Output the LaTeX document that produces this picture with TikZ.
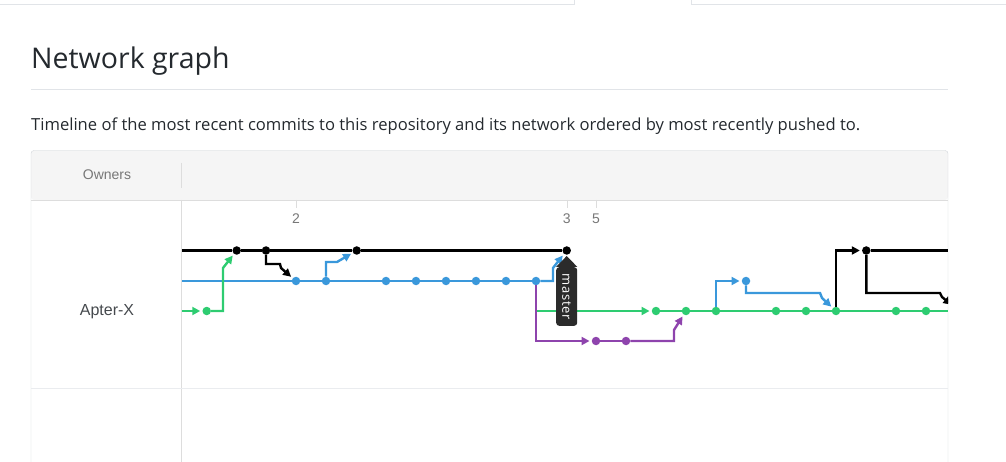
\documentclass[tikz,border=0pt]{standalone}
\usepackage{fontspec}
\setmainfont{Open Sans}
\newfontfamily\canvasfont{Liberation Sans}
\usetikzlibrary{arrows.meta}
\definecolor{ghtext}{HTML}{24292E}
\definecolor{ghrule}{HTML}{E1E4E8}
\definecolor{ghborder}{HTML}{D1D5DA}
\definecolor{ghhead}{HTML}{F5F5F5}
\definecolor{ghgrid}{HTML}{DDDDDD}
\definecolor{ghlabel}{HTML}{777777}
\definecolor{nblack}{HTML}{000000}
\definecolor{nblue}{HTML}{3A98DB}
\definecolor{ngreen}{HTML}{2ECC71}
\definecolor{npurple}{HTML}{8E44AD}
\definecolor{tagdark}{HTML}{2B2B2B}
\begin{document}
\begin{tikzpicture}[x=1pt,y=-1pt,
    commit/.style={circle,fill,inner sep=0pt,minimum size=8.5pt},
    kcommit/.style={commit,fill=nblack},
    bcommit/.style={commit,fill=nblue},
    gcommit/.style={commit,fill=ngreen},
    pcommit/.style={commit,fill=npurple},
    branch/.style={line width=2.4pt},
    merge/.style={line width=2.4pt,-{Triangle[length=8pt,width=8pt]},shorten >=2pt},
    ticklabel/.style={font=\canvasfont\fontsize{14}{14}\selectfont,text=ghlabel,inner sep=0pt},
    tag/.style={fill=tagdark,text=white,rounded corners=3pt,rotate=-90,
      font=\fontsize{13}{13}\selectfont\addfontfeatures{LetterSpace=6},
      minimum height=21pt,inner xsep=6pt}]
  \useasboundingbox (0,0) rectangle (1006,462);

  % page
  \draw[ghrule] (0,4) -- (574,4) -- (574,0);
  \draw[ghrule] (691,0) -- (691,4) -- (1006,4);
  \node[anchor=base west,inner sep=0pt,text=ghtext,font=\fontsize{28.5}{30}\selectfont]
    (title) at (31,69) {Network graph};
  \draw[ghrule,line width=1pt] (31,90) -- (948,90);
  \node[anchor=base west,inner sep=0pt,text=ghtext,font=\fontsize{16.6}{18}\selectfont]
    (lead) at (31,131) {Timeline of the most recent commits to this repository and its network ordered by most recently pushed to.};

  % box
  \fill[ghhead,rounded corners=3pt] (31,150.5) rectangle (948,200);
  \draw[ghborder,rounded corners=3pt] (31,480) -- (31,150.5) -- (948,150.5) -- (948,480);
  \draw[ghgrid] (31,200) -- (948,200);
  \draw[ghgrid] (181.5,163) -- (181.5,188);
  \draw[ghgrid] (181.5,200) -- (181.5,462);
  \draw[ghrule!70,line width=1pt] (31,388) -- (948,388);
  \node[font=\canvasfont\fontsize{14}{14}\selectfont,text=ghlabel] (owners) at (107,175) {Owners};
  \node[font=\canvasfont\fontsize{16}{16}\selectfont,text=ghtext!85] (apterx) at (107,312) {Apter-X};

  % dates
  \draw[ghgrid] (296,200) -- (296,208);
  \draw[ghgrid] (566.7,200) -- (566.7,208);
  \draw[ghgrid] (596,200) -- (596,208);
  \node[ticklabel] (d2) at (296,219) {2};
  \node[ticklabel] (d3) at (566.7,219) {3};
  \node[ticklabel] (d5) at (596,219) {5};

  \begin{scope}
    \clip (182,201) rectangle (948,387);
    \path
      (181,250.5) coordinate (kL)
      (181,281) coordinate (bL)
      (181,311) coordinate (gL)
      (948,250.5) coordinate (kR)
      (948,311) coordinate (gR)
      (953,306) coordinate (kX);
    \path
      (236.7,250.5) node[kcommit] (k1) {}
      (266,250.5) node[kcommit] (k2) {}
      (356.7,250.5) node[kcommit] (k3) {}
      (566.7,250.5) node[kcommit] (k4) {}
      (866.3,250.5) node[kcommit] (k5) {};
    \path
      (296,281) node[bcommit] (b1) {}
      (326,281) node[bcommit] (b2) {}
      (386,281) node[bcommit] (b3) {}
      (416,281) node[bcommit] (b4) {}
      (446,281) node[bcommit] (b5) {}
      (476,281) node[bcommit] (b6) {}
      (506,281) node[bcommit] (b7) {}
      (536,281) node[bcommit] (b8) {}
      (746,281) node[bcommit] (b9) {};
    \path
      (206.7,311) node[gcommit] (g1) {}
      (656,311) node[gcommit] (g2) {}
      (686,311) node[gcommit] (g3) {}
      (716,311) node[gcommit] (g4) {}
      (776,311) node[gcommit] (g5) {}
      (806,311) node[gcommit] (g6) {}
      (836,311) node[gcommit] (g7) {}
      (896,311) node[gcommit] (g8) {}
      (926,311) node[gcommit] (g9) {};
    \path
      (596,341) node[pcommit] (p1) {}
      (626,341) node[pcommit] (p2) {};

    \begin{scope}[nblack]
      \draw[branch] (kL) -- (k1) -- (k2) -- (k3) -- (k4);
      \draw[branch] (k5) -- (kR);
      \draw[merge] (k2) -- (266,264) -- (280,264) -- (281,268) -- (b1);
      \draw[merge] (g7) -- (836,250.5) -- (k5);
      \draw[merge] (k5) -- (866.3,293) -- (940,293) -- (942,297) -- (kX);
    \end{scope}
    \begin{scope}[nblue]
      \draw[branch] (bL) -- (b1) -- (b2) -- (b3) -- (b4) -- (b5) -- (b6) -- (b7) -- (b8);
      \draw[merge] (b2) -- (326,262) -- (337,262) -- (k3);
      \draw[merge] (b8) -- (553,281) -- (553,268) -- (k4);
      \draw[merge] (g4) -- (716,281) -- (b9);
      \draw[merge] (b9) -- (746,293) -- (820,293) -- (822,298) -- (g7);
    \end{scope}
    \begin{scope}[ngreen]
      \draw[merge] (gL) -- (g1);
      \draw[merge] (g1) -- (223,311) -- (223,268) -- (k1);
      \draw[merge] (b8) -- (536,311) -- (g2);
      \draw[branch] (g2) -- (g3) -- (g4) -- (g5) -- (g6) -- (g7) -- (g8) -- (g9) -- (gR);
    \end{scope}
    \begin{scope}[npurple]
      \draw[merge] (b8) -- (536,341) -- (p1);
      \draw[branch] (p1) -- (p2);
      \draw[merge] (p2) -- (674,341) -- (674,330) -- (g3);
    \end{scope}

    % branch tag
    \node[tag,anchor=west] (master) at (566.7,267) {master};
    \fill[tagdark] (master.north west) -- (566.7,256) -- (master.south west) -- cycle;
  \end{scope}
\end{tikzpicture}
\end{document}
